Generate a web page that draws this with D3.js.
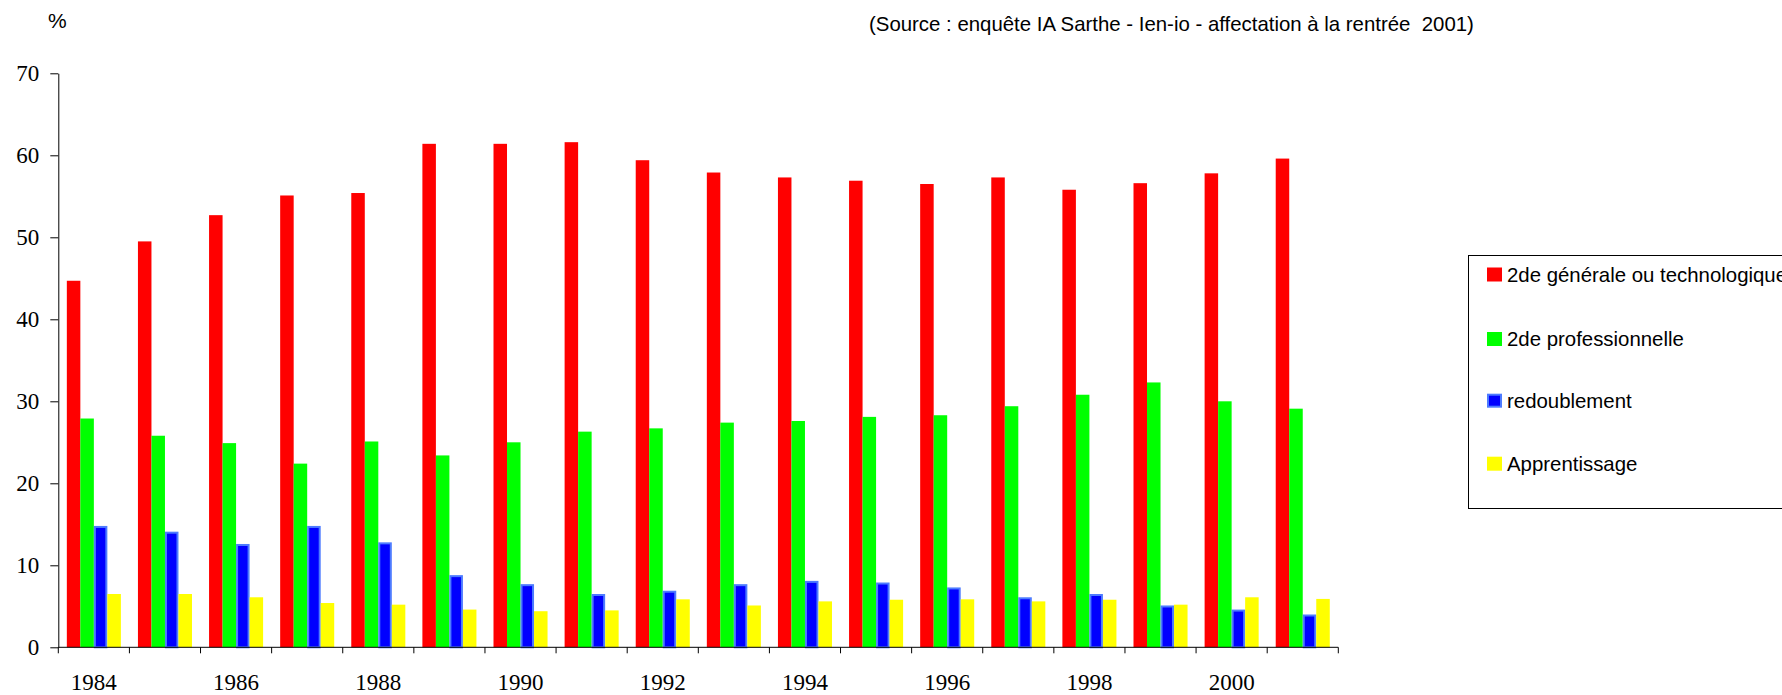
<!DOCTYPE html>
<html>
<head>
<meta charset="utf-8">
<script src="https://cdn.jsdelivr.net/npm/d3@7/dist/d3.min.js"></script>
<style>
  html, body { margin: 0; padding: 0; background: #fff; }
  svg { display: block; }
</style>
</head>
<body>
<script>
// ---- data ----
const years = [1984,1985,1986,1987,1988,1989,1990,1991,1992,1993,1994,1995,1996,1997,1998,1999,2000,2001];
const seriesNames = ["2de générale ou technologique", "2de professionnelle", "redoublement", "Apprentissage"];
const generale = [44.7,49.5,52.7,55.1,55.4,61.4,61.4,61.6,59.4,57.9,57.3,56.9,56.5,57.3,55.8,56.6,57.8,59.6];
const professionnelle = [27.9,25.8,24.9,22.4,25.1,23.4,25.0,26.3,26.7,27.4,27.6,28.1,28.3,29.4,30.8,32.3,30.0,29.1];
const redoublement = [14.8,14.1,12.6,14.8,12.8,8.8,7.7,6.5,6.9,7.7,8.1,7.9,7.3,6.1,6.5,5.1,4.6,4.0];
const apprentissage = [6.5,6.5,6.1,5.4,5.2,4.6,4.4,4.5,5.85,5.1,5.6,5.8,5.85,5.6,5.8,5.2,6.1,5.9];
const yTicks = [0,10,20,30,40,50,60,70];
const xTickLabels = [1984,1986,1988,1990,1992,1994,1996,1998,2000];
const sourceText = "(Source : enquête IA Sarthe - Ien-io - affectation à la rentrée  2001)";
const unitLabel = "%";

const seriesValues = [generale, professionnelle, redoublement, apprentissage];
const colors = ["#ff0000", "#00ff00", "#0000ff", "#ffff00"];
const strokes = ["none", "none", "#4d7bff", "none"];

const W = 1782, H = 695;
const svg = d3.select("body").append("svg").attr("width", W).attr("height", H);

const x0 = 58.3, x1 = 1338.3, yTop = 73.3, yBot = 647.3;

const x = d3.scaleBand().domain(years).range([x0, x1]).paddingInner(0.24).paddingOuter(0.12);
const xs = d3.scaleBand().domain(d3.range(seriesNames.length)).range([0, x.bandwidth()]);
const y = d3.scaleLinear().domain([0, 70]).range([yBot, yTop]);

// bars
seriesValues.forEach((vals, s) => {
  const b = strokes[s] !== "none";
  svg.append("g").selectAll("rect").data(years).join("rect")
    .attr("x", (d, i) => x(d) + xs(s) + (b ? 1 : 0))
    .attr("y", (d, i) => y(vals[i]) + (b ? 1 : 0))
    .attr("width", xs.bandwidth() - (b ? 2 : 0))
    .attr("height", (d, i) => yBot - y(vals[i]) - (b ? 1 : 0))
    .attr("fill", colors[s])
    .attr("stroke", strokes[s])
    .attr("stroke-width", 2);
});

// y axis
const yAxis = d3.axisLeft(y).tickValues(yTicks).tickSize(8).tickPadding(11).tickSizeOuter(0);
const gy = svg.append("g").attr("transform", `translate(${x0},0)`).call(yAxis);
gy.select(".domain").attr("stroke", "#000");
gy.selectAll(".tick line").attr("stroke", "#000");
gy.selectAll(".tick text").attr("font-family", "Liberation Serif, Times New Roman, serif")
  .attr("font-size", 23).attr("fill", "#000");

// x axis line + ticks at category boundaries
const step = x.step();
const bounds = d3.range(years.length + 1).map(i => x0 + i * step);
svg.append("line").attr("x1", x0).attr("x2", x1).attr("y1", yBot).attr("y2", yBot)
  .attr("stroke", "#000");
svg.append("g").selectAll("line").data(bounds).join("line")
  .attr("x1", d => d).attr("x2", d => d).attr("y1", yBot).attr("y2", yBot + 6)
  .attr("stroke", "#000");
svg.append("g").selectAll("text").data(xTickLabels).join("text")
  .attr("x", d => x(d) + x.bandwidth() / 2)
  .attr("y", 690)
  .attr("text-anchor", "middle")
  .attr("font-family", "Liberation Serif, Times New Roman, serif")
  .attr("font-size", 23)
  .text(d => d);

// unit label
svg.append("text").attr("x", 48).attr("y", 28)
  .attr("font-family", "Liberation Sans, Arial, sans-serif").attr("font-size", 21)
  .text(unitLabel);

// source
svg.append("text").attr("x", 869).attr("y", 30.5)
  .attr("font-family", "Liberation Sans, Arial, sans-serif").attr("font-size", 20.4)
  .style("white-space", "pre")
  .text(sourceText);

// legend
const lg = svg.append("g");
lg.append("rect").attr("x", 1468.5).attr("y", 255.5).attr("width", 400).attr("height", 253)
  .attr("fill", "#fff").attr("stroke", "#000").attr("stroke-width", 1);
const rowY = [274.5, 339, 400.7, 463.7];
seriesNames.forEach((name, s) => {
  const b = strokes[s] !== "none";
  lg.append("rect").attr("x", 1487 + (b ? 1 : 0))
    .attr("y", rowY[s] - 7 + (b ? 1 : 0))
    .attr("width", 15 - (b ? 2 : 0))
    .attr("height", 14 - (b ? 2 : 0))
    .attr("fill", colors[s]).attr("stroke", strokes[s]).attr("stroke-width", 2);
  lg.append("text").attr("x", 1507).attr("y", rowY[s] + 7)
    .attr("font-family", "Liberation Sans, Arial, sans-serif").attr("font-size", 20.4)
    .text(name);
});
</script>
</body>
</html>
